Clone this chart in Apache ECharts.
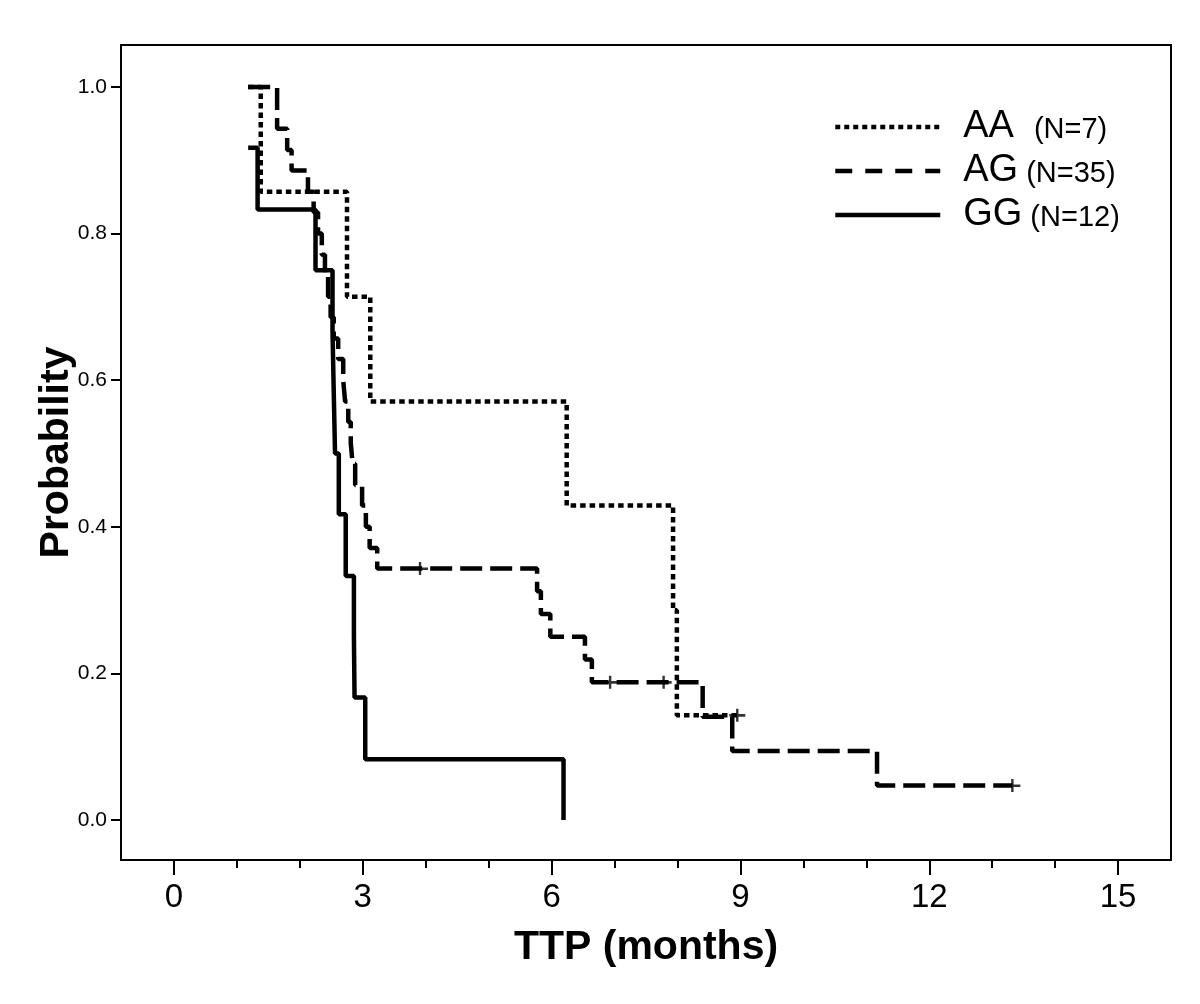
<!DOCTYPE html>
<html>
<head>
<meta charset="utf-8">
<script src="https://cdn.jsdelivr.net/npm/echarts@6/dist/echarts.min.js"></script>
<style>
  html, body { margin: 0; padding: 0; background: #fff; }
  #chart { width: 1200px; height: 1004px; }
</style>
</head>
<body>
<div id="chart"></div>
<script>
// ---- Data ----
const groupNames = ['AA', 'AG', 'GG'];
const groupN = ['(N=7)', '(N=35)', '(N=12)'];

const aaTimes = [1.18, 1.38, 2.75, 3.12, 6.24, 7.93, 7.99, 8.95];
const aaSurv  = [1.0, 0.857, 0.714, 0.571, 0.429, 0.286, 0.143, 0.143];
const aaCensorTimes = [8.95];
const aaCensorSurv  = [0.143];

const agTimes = [1.18, 1.64, 1.80, 1.87, 2.13, 2.22, 2.29, 2.35, 2.40, 2.45, 2.49, 2.54, 2.61,
                 2.69, 2.72, 2.77, 2.81, 2.84, 2.88, 2.99, 3.05, 3.11, 3.23, 3.91, 5.77, 5.83,
                 5.98, 6.53, 6.64, 6.93, 7.78, 8.40, 8.87, 11.17, 13.32];
const agSurv  = [1.0, 0.943, 0.914, 0.886, 0.857, 0.829, 0.800, 0.771, 0.743, 0.714, 0.686, 0.657, 0.629,
                 0.600, 0.571, 0.543, 0.514, 0.486, 0.457, 0.429, 0.400, 0.371, 0.343, 0.343, 0.312, 0.281,
                 0.250, 0.219, 0.188, 0.188, 0.188, 0.141, 0.094, 0.047, 0.047];
const agCensorTimes = [3.91, 6.93, 7.78, 13.32];
const agCensorSurv  = [0.343, 0.188, 0.188, 0.047];

const ggTimes = [1.18, 1.33, 2.25, 2.52, 2.54, 2.56, 2.62, 2.73, 2.86, 2.87, 3.04, 6.19];
const ggSurv  = [0.917, 0.833, 0.750, 0.667, 0.583, 0.500, 0.417, 0.333, 0.250, 0.167, 0.083, 0.0];

const xMajorTicks = [0, 3, 6, 9, 12, 15];
const xMinorTicks = [0, 1, 2, 3, 4, 5, 6, 7, 8, 9, 10, 11, 12, 13, 14, 15];
const yTicks = [0, 0.2, 0.4, 0.6, 0.8, 1.0];

// ---- Build chart ----
const zip = (a, b) => a.map((v, i) => [v, b[i]]);
const FONT = '"Liberation Sans", Arial, sans-serif';
const X_MIN = -0.84, X_MAX = 15.84, Y_MIN = -0.0546, Y_MAX = 1.0573;

const crossPath = 'path://M0,5H16V7.4H0Z M6.8,0H9.2V12H6.8Z';

const chart = echarts.init(document.getElementById('chart'), null, { renderer: 'canvas' });

const lineCommon = {
  type: 'line', step: 'end', symbol: 'none', silent: true, animation: false,
  xAxisIndex: 0, yAxisIndex: 0
};
const hiddenSymbol = { color: 'rgba(0,0,0,0)', borderWidth: 0, opacity: 0 };

chart.setOption({
  animation: false,
  backgroundColor: '#ffffff',
  grid: {
    left: 121, right: 29, top: 45, bottom: 144,
    show: true, borderColor: '#000', borderWidth: 2, backgroundColor: 'transparent'
  },
  legend: {
    orient: 'vertical',
    left: 833, top: 108,
    padding: 0,
    itemWidth: 105, itemHeight: 14,
    itemGap: 6,
    selectedMode: false,
    data: [
      { name: 'AA', itemStyle: hiddenSymbol, lineStyle: { type: [5, 4], width: 4.5, color: '#000' } },
      { name: 'AG', itemStyle: hiddenSymbol, lineStyle: { type: [17, 13], width: 4.5, color: '#000' } },
      { name: 'GG', itemStyle: hiddenSymbol, lineStyle: { type: 'solid', width: 4.5, color: '#000' } }
    ],
    formatter: function (name) {
      const i = groupNames.indexOf(name);
      const gapKey = name === 'AA' ? 'bw' : 'b';
      return '{a|' + name + '}{' + gapKey + '|' + groupN[i] + '}';
    },
    textStyle: {
      color: '#000',
      rich: {
        a: { fontSize: 38, fontFamily: FONT, color: '#000', padding: [0, 0, 0, 18], lineHeight: 44 },
        b: { fontSize: 29, fontFamily: FONT, color: '#000', padding: [5, 0, 0, 8], lineHeight: 44 },
        bw: { fontSize: 29, fontFamily: FONT, color: '#000', padding: [5, 0, 0, 20], lineHeight: 44 }
      }
    }
  },
  xAxis: [
    {
      type: 'value', min: X_MIN, max: X_MAX, position: 'bottom',
      name: 'TTP (months)', nameLocation: 'middle', nameGap: 67, nameMoveOverlap: false,
      nameTextStyle: { fontSize: 41, fontWeight: 'bold', fontFamily: FONT, color: '#000' },
      axisLine: { show: true, onZero: false, lineStyle: { color: '#000', width: 2 } },
      axisTick: { show: true, inside: false, length: 15, customValues: xMajorTicks,
                  lineStyle: { color: '#000', width: 2 } },
      axisLabel: { show: true, customValues: xMajorTicks, margin: 21, fontSize: 33,
                   fontFamily: FONT, color: '#000', formatter: v => String(v) },
      splitLine: { show: false }
    },
    {
      type: 'value', min: X_MIN, max: X_MAX, position: 'bottom',
      axisLine: { show: false, onZero: false },
      axisTick: { show: true, inside: false, length: 8, customValues: xMinorTicks,
                  lineStyle: { color: '#000', width: 2 } },
      axisLabel: { show: false },
      splitLine: { show: false }
    }
  ],
  yAxis: {
    type: 'value', min: Y_MIN, max: Y_MAX,
    name: 'Probability', nameLocation: 'middle', nameGap: 44, nameRotate: 90, nameMoveOverlap: false,
    nameTextStyle: { fontSize: 41, fontWeight: 'bold', fontFamily: FONT, color: '#000' },
    axisLine: { show: true, onZero: false, lineStyle: { color: '#000', width: 2 } },
    axisTick: { show: true, inside: false, length: 10, customValues: yTicks,
                lineStyle: { color: '#000', width: 2 } },
    axisLabel: { show: true, customValues: yTicks, margin: 14, fontSize: 21,
                 fontFamily: FONT, color: '#000', formatter: v => v.toFixed(1) },
    splitLine: { show: false }
  },
  series: [
    Object.assign({}, lineCommon, {
      name: 'AA', data: zip(aaTimes, aaSurv),
      lineStyle: { color: '#000', width: 4.5, type: [5.5, 4], cap: 'butt' },
      itemStyle: { color: '#000' }
    }),
    Object.assign({}, lineCommon, {
      name: 'AG', data: zip(agTimes, agSurv),
      lineStyle: { color: '#000', width: 4.5, type: [22, 8], cap: 'butt' },
      itemStyle: { color: '#000' }
    }),
    Object.assign({}, lineCommon, {
      name: 'GG', data: zip(ggTimes, ggSurv),
      lineStyle: { color: '#000', width: 4.5, type: 'solid' },
      itemStyle: { color: '#000' }
    }),
    {
      type: 'scatter', name: 'censorAA', silent: true, symbol: crossPath, symbolSize: [16, 13],
      data: zip(aaCensorTimes, aaCensorSurv), itemStyle: { color: '#000' }, z: 5
    },
    {
      type: 'scatter', name: 'censorAG', silent: true, symbol: crossPath, symbolSize: [16, 13],
      data: zip(agCensorTimes, agCensorSurv), itemStyle: { color: '#000' }, z: 5
    }
  ]
});
</script>
</body>
</html>
